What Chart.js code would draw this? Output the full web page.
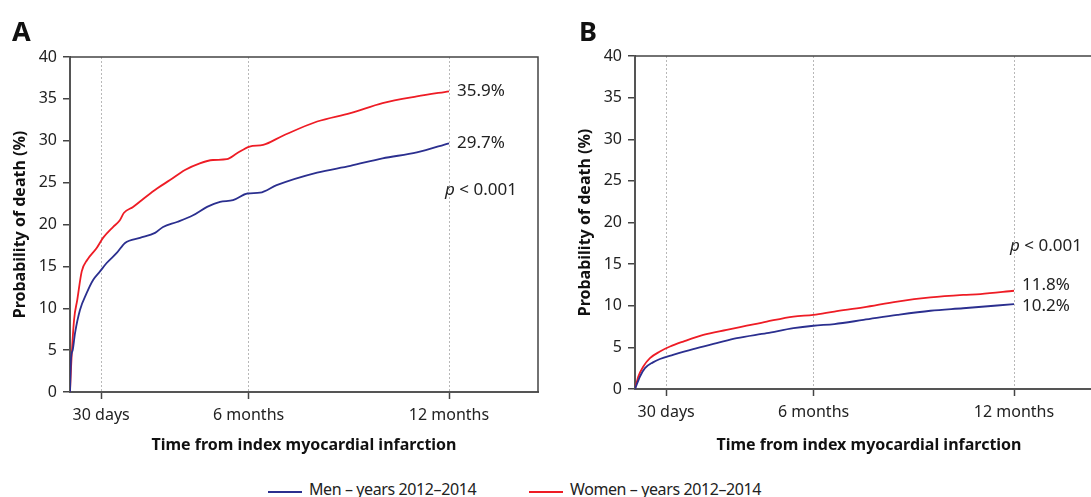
<!DOCTYPE html>
<html lang="en">
<head>
    <meta charset="UTF-8">
    <title>Probability of death after myocardial infarction</title>
    <script src="https://cdn.jsdelivr.net/npm/chart.js"></script>
    <style>
        html, body {
            margin: 0;
            padding: 0;
            background: #fff;
            width: 1091px;
            height: 497px;
            overflow: hidden;
            font-family: "Noto Sans", "Open Sans", sans-serif;
            color: #222;
        }

        .panel {
            position: absolute;
            top: 0;
        }

        .panel-label {
            position: absolute;
            font-weight: bold;
            font-size: 27px;
            line-height: 1;
            color: #111;
        }

        .legend {
            position: absolute;
            top: 479px;
            font-size: 16px;
            letter-spacing: -0.4px;
            line-height: 20px;
            white-space: nowrap;
        }

        .legend .swatch {
            display: inline-block;
            width: 34px;
            height: 2px;
            vertical-align: middle;
            margin-right: 7px;
            position: relative;
            top: 1px;
        }
    </style>
</head>
<body>
    <canvas id="chartA" class="panel" width="560" height="460" style="left:0px"></canvas>
    <canvas id="chartB" class="panel" width="560" height="460" style="left:565px"></canvas>

    <div class="panel-label" style="left:12px; top:17px">A</div>
    <div class="panel-label" style="left:579px; top:17px">B</div>

    <div class="legend" style="left:268px"><span class="swatch" style="background:#2b2f8f"></span>Men – years 2012–2014</div>
    <div class="legend" style="left:529px"><span class="swatch" style="background:#ee1c25"></span>Women – years 2012–2014</div>

    <script>
        // Time axis (days after index MI) and its labelled ticks
        const xTickDays = [30, 172, 365];
        const xTickLabels = ['30 days', '6 months', '12 months'];
        const xMaxDays = 450.7;
        const yTicks = [0, 5, 10, 15, 20, 25, 30, 35, 40];

        // Panel A - women
        const daysAWomen = [0, 1, 3.9, 7, 11.3, 16.7, 25.7, 31.8, 41.4, 48, 52, 60.7, 69, 83.8, 96.3, 110.7, 125, 137.7, 151, 160.8, 173, 186, 205, 238, 270, 301, 334, 365];
        const probAWomen = [0, 2.9, 8.6, 11, 14.4, 15.8, 17.2, 18.4, 19.7, 20.5, 21.4, 22.1, 22.9, 24.3, 25.3, 26.5, 27.3, 27.7, 27.8, 28.5, 29.3, 29.5, 30.6, 32.3, 33.3, 34.5, 35.3, 35.9];

        // Panel A - men
        const daysAMen = [0, 1, 2.6, 4.8, 9.6, 16, 22.4, 28.9, 35.3, 45, 53, 67.4, 81.9, 89.6, 103, 118.5, 132, 144.5, 157, 171, 183, 199, 238, 270, 301, 334, 365];
        const probAMen = [0, 4, 5.0, 7.0, 9.8, 11.8, 13.4, 14.4, 15.4, 16.6, 17.8, 18.4, 19.0, 19.7, 20.3, 21.1, 22.1, 22.7, 22.9, 23.7, 23.8, 24.7, 26.2, 27.0, 27.9, 28.6, 29.7];

        // Panel B - women
        const daysBWomen = [0, 3.2, 8, 14.4, 24, 33.7, 46.5, 65.8, 88.3, 107.6, 126.9, 152.6, 171.8, 192, 220, 252.6, 284.5, 316, 332.6, 365];
        const probBWomen = [0, 1.5, 2.7, 3.7, 4.5, 5.1, 5.7, 6.5, 7.1, 7.6, 8.1, 8.7, 8.9, 9.3, 9.8, 10.5, 11.0, 11.3, 11.4, 11.8];

        // Panel B - men
        const daysBMen = [0, 4.8, 9.6, 17.3, 24, 36.6, 56, 78.6, 98, 126.9, 152.6, 171.8, 192, 220, 252.6, 284.5, 316, 365];
        const probBMen = [0, 1.5, 2.5, 3.2, 3.6, 4.1, 4.8, 5.5, 6.1, 6.7, 7.3, 7.6, 7.8, 8.3, 8.9, 9.4, 9.7, 10.2];

        const MEN_COLOR = '#2b2f8f';
        const WOMEN_COLOR = '#ee1c25';
        const FONT = '"Noto Sans", "Open Sans", sans-serif';

        function toPoints(xs, ys) {
            return xs.map((x, i) => ({ x: x, y: ys[i] }));
        }

        // Top and right frame of the plot area
        const framePlugin = {
            id: 'frame',
            afterDraw(chart) {
                const { ctx, chartArea } = chart;
                ctx.save();
                ctx.strokeStyle = '#444';
                ctx.lineWidth = 1.5;
                ctx.beginPath();
                ctx.moveTo(chartArea.left, chartArea.top);
                ctx.lineTo(chartArea.right, chartArea.top);
                ctx.lineTo(chartArea.right, chartArea.bottom);
                ctx.stroke();
                ctx.restore();
            }
        };

        // Final-value labels next to each curve plus the p-value note
        const endLabelPlugin = {
            id: 'endLabels',
            afterDatasetsDraw(chart, args, opts) {
                const { ctx } = chart;
                const xs = chart.scales.x;
                const ys = chart.scales.y;
                ctx.save();
                ctx.fillStyle = '#222';
                ctx.font = '17px ' + FONT;
                ctx.textBaseline = 'middle';
                ctx.textAlign = 'left';
                chart.data.datasets.forEach((ds, i) => {
                    const last = ds.data[ds.data.length - 1];
                    const px = xs.getPixelForValue(last.x) + 8;
                    const py = ys.getPixelForValue(last.y) + (opts.nudge[i] || 0);
                    ctx.fillText(last.y.toFixed(1) + '%', px, py);
                });
                // p < 0.001
                let px = xs.getPixelForValue(opts.pAt[0]) - 4;
                const py = ys.getPixelForValue(opts.pAt[1]);
                ctx.font = 'italic 17px ' + FONT;
                ctx.fillText('p', px, py);
                px += ctx.measureText('p').width;
                ctx.font = '17px ' + FONT;
                ctx.fillText(' < 0.001', px, py);
                ctx.restore();
            }
        };

        function makeChart(canvasId, menPts, womenPts, topPad, xAxisHeight, labelOpts) {
            return new Chart(document.getElementById(canvasId).getContext('2d'), {
                type: 'line',
                data: {
                    datasets: [{
                        label: 'Men – years 2012–2014',
                        data: menPts,
                        borderColor: MEN_COLOR,
                        borderWidth: 1.8,
                        pointRadius: 0,
                        cubicInterpolationMode: 'monotone'
                    }, {
                        label: 'Women – years 2012–2014',
                        data: womenPts,
                        borderColor: WOMEN_COLOR,
                        borderWidth: 1.8,
                        pointRadius: 0,
                        cubicInterpolationMode: 'monotone'
                    }]
                },
                options: {
                    responsive: false,
                    animation: false,
                    layout: { padding: { top: topPad, right: 22, left: 0, bottom: 0 } },
                    plugins: {
                        legend: { display: false },
                        tooltip: { enabled: false },
                        endLabels: labelOpts
                    },
                    scales: {
                        x: {
                            type: 'linear',
                            min: 0,
                            max: xMaxDays,
                            afterFit(scale) { scale.height = xAxisHeight; },
                            afterBuildTicks(scale) {
                                scale.ticks = xTickDays.map(v => ({ value: v }));
                            },
                            ticks: {
                                autoSkip: false,
                                maxRotation: 0,
                                padding: 7,
                                color: '#222',
                                font: { family: FONT, size: 16 },
                                callback: function(value) {
                                    const i = xTickDays.indexOf(value);
                                    return i >= 0 ? xTickLabels[i] : '';
                                }
                            },
                            grid: {
                                color: '#b8b8b8',
                                lineWidth: 1,
                                tickColor: '#444',
                                tickBorderDash: [],
                                tickWidth: 1.5,
                                tickLength: 7
                            },
                            border: { display: true, color: '#555', width: 2, dash: [2, 2] },
                            title: {
                                display: true,
                                text: 'Time from index myocardial infarction',
                                color: '#111',
                                font: { family: FONT, size: 16, weight: 'bold' },
                                padding: { top: 0, bottom: 5 }
                            }
                        },
                        y: {
                            min: 0,
                            max: 40,
                            afterFit(scale) { scale.width = 70; },
                            afterBuildTicks(scale) {
                                scale.ticks = yTicks.map(v => ({ value: v }));
                            },
                            ticks: {
                                padding: 6,
                                color: '#222',
                                font: { family: FONT, size: 16 }
                            },
                            grid: {
                                drawOnChartArea: false,
                                color: '#444',
                                tickLength: 7,
                                lineWidth: 1.5
                            },
                            border: { display: true, color: '#555', width: 2 },
                            title: {
                                display: true,
                                text: 'Probability of death (%)',
                                color: '#111',
                                font: { family: FONT, size: 16, weight: 'bold' },
                                padding: { top: 11, bottom: 0 }
                            }
                        }
                    }
                },
                plugins: [framePlugin, endLabelPlugin]
            });
        }

        makeChart('chartA',
            toPoints(daysAMen, probAMen),
            toPoints(daysAWomen, probAWomen),
            57, 68,
            { nudge: [0, 0], pAt: [365, 24.1] });

        makeChart('chartB',
            toPoints(daysBMen, probBMen),
            toPoints(daysBWomen, probBWomen),
            56, 71,
            { nudge: [2, -6], pAt: [365, 17.2] });
    </script>
</body>
</html>
